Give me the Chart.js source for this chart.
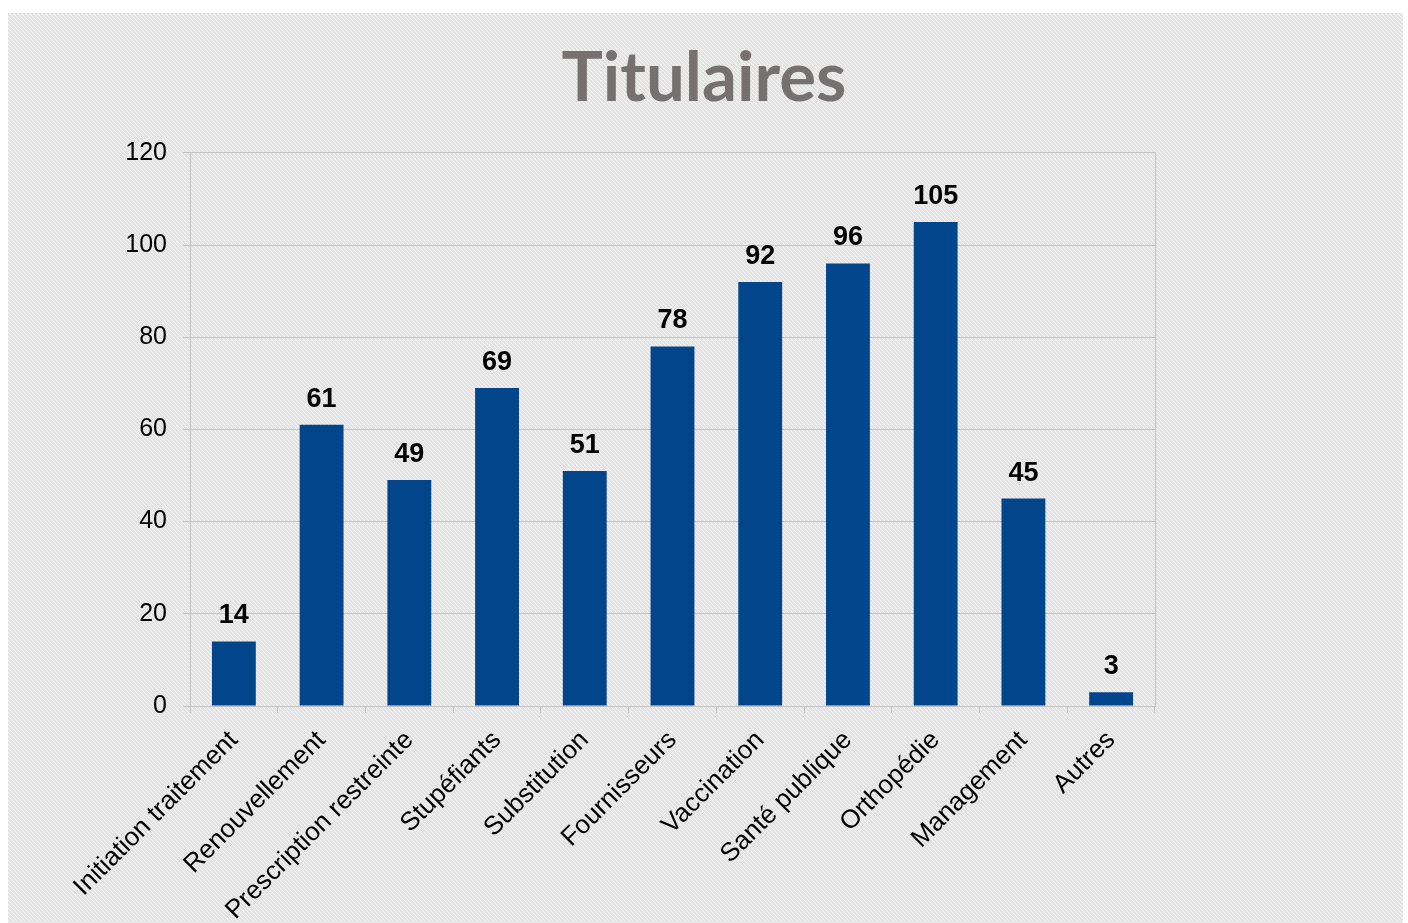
<!DOCTYPE html>
<html>
<head>
<meta charset="utf-8">
<script src="https://cdn.jsdelivr.net/npm/chart.js@4/dist/chart.umd.min.js"></script>
<style>
  html, body { margin: 0; padding: 0; background: #fff; }
  #wrap { width: 1408px; height: 923px; }
</style>
</head>
<body>
<div id="wrap"><canvas id="chartTitulaires"></canvas></div>
<script>
const categories = [
    "Initiation traitement", "Renouvellement", "Prescription restreinte",
    "Stupéfiants", "Substitution", "Fournisseurs", "Vaccination",
    "Santé publique", "Orthopédie", "Management", "Autres"
];
const values = [14, 61, 49, 69, 51, 78, 92, 96, 105, 45, 3];
const yTicks = [0, 20, 40, 60, 80, 100, 120];

// diagonal stripe background tile
function makePattern(ctx) {
    const tile = document.createElement("canvas");
    tile.width = 4;
    tile.height = 4;
    const t = tile.getContext("2d");
    t.fillStyle = "#e3e3e3";
    t.fillRect(0, 0, 4, 4);
    t.fillStyle = "#f6f6f6";
    for (let i = 0; i < 4; i++) {
        t.fillRect(i, i, 1, 1);
    }
    return ctx.createPattern(tile, "repeat");
}

const background = {
    id: "background",
    beforeDraw(chart) {
        const ctx = chart.ctx;
        ctx.save();
        ctx.fillStyle = "#ffffff";
        ctx.fillRect(0, 0, chart.width, chart.height);
        ctx.fillStyle = makePattern(ctx);
        ctx.fillRect(8, 13, 1395, chart.height - 13);
        ctx.restore();
    }
};

const valueLabels = {
    id: "valueLabels",
    afterDatasetsDraw(chart) {
        const ctx = chart.ctx;
        ctx.save();
        ctx.font = "bold 27px 'Liberation Sans', Arial, sans-serif";
        ctx.fillStyle = "#000000";
        ctx.textAlign = "center";
        ctx.textBaseline = "bottom";
        chart.getDatasetMeta(0).data.forEach((bar, i) => {
            ctx.fillText(values[i], bar.x, bar.y - 12);
        });
        ctx.restore();
    }
};

const gridColor = "#c3c3c3";

new Chart(document.getElementById("chartTitulaires"), {
    type: "bar",
    data: {
        labels: categories,
        datasets: [{
            data: values,
            backgroundColor: "#02458a",
            barPercentage: 0.5,
            categoryPercentage: 1.0
        }]
    },
    options: {
        responsive: true,
        maintainAspectRatio: false,
        animation: false,
        layout: { padding: 0 },
        plugins: {
            legend: { display: false },
            tooltip: { enabled: false },
            title: {
                display: true,
                text: "Titulaires",
                color: "#767171",
                font: { family: "Lato, 'Open Sans', sans-serif", size: 69, weight: "bold" },
                padding: { top: 37, bottom: 33 }
            }
        },
        scales: {
            x: {
                offset: true,
                grid: { display: true, drawOnChartArea: false, color: gridColor, tickLength: 7, offset: true },
                border: { color: gridColor },
                ticks: {
                    color: "#000000",
                    font: { family: "'Liberation Sans', Arial, sans-serif", size: 26 },
                    maxRotation: 45,
                    minRotation: 45,
                    padding: 12
                },
                afterFit(scale) { scale.height = 217; }
            },
            y: {
                min: 0,
                max: 120,
                afterBuildTicks(scale) { scale.ticks = yTicks.map(v => ({ value: v })); },
                grid: { color: gridColor, tickLength: 7 },
                border: { color: gridColor },
                ticks: {
                    color: "#000000",
                    font: { family: "'Liberation Sans', Arial, sans-serif", size: 25 },
                    padding: 16
                },
                afterFit(scale) { scale.width = 190; }
            },
            yRight: {
                position: "right",
                min: 0,
                max: 120,
                grid: { display: false },
                border: { display: true, color: gridColor },
                ticks: { display: false },
                afterFit(scale) { scale.width = 253; }
            }
        }
    },
    plugins: [background, valueLabels]
});
</script>
</body>
</html>
